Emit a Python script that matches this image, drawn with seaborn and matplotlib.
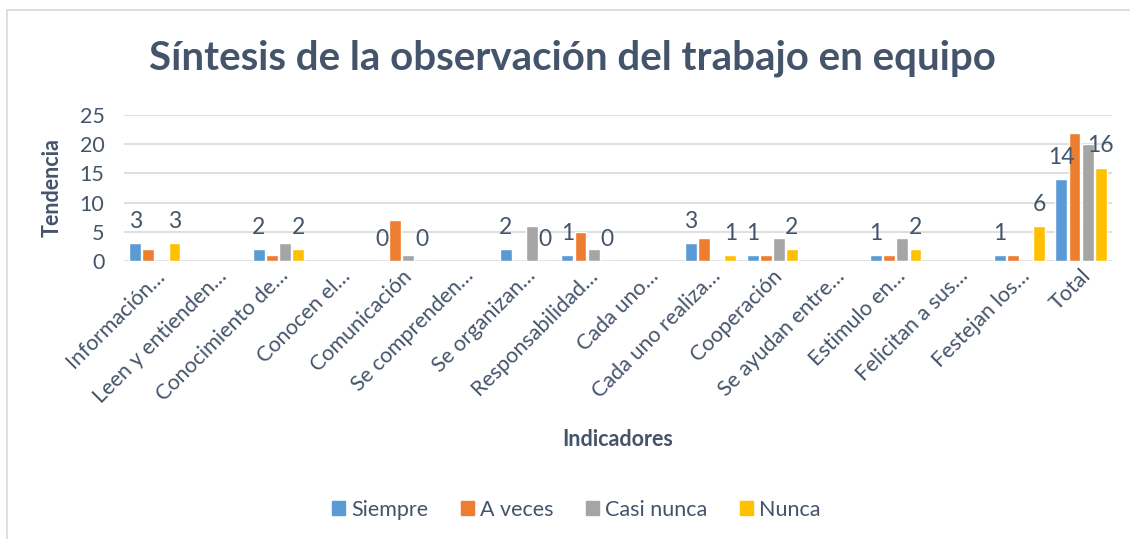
import matplotlib
matplotlib.use("Agg")
import matplotlib.pyplot as plt
from matplotlib.patches import Rectangle
import seaborn as sns
import pandas as pd
import numpy as np

#%% - data
indicadores = ["Información…", "Leen y entienden…", "Conocimiento de…", "Conocen el…",
               "Comunicación", "Se comprenden…", "Se organizan…", "Responsabilidad…",
               "Cada uno…", "Cada uno realiza…", "Cooperación", "Se ayudan entre…",
               "Estimulo en…", "Felicitan a sus…", "Festejan los…", "Total"]
nan = np.nan
siempre    = [3, nan, 2, nan, 0, nan, 2, 1, nan, 3, 1, nan, 1, nan, 1, 14]
a_veces    = [2, nan, 1, nan, 7, nan, 0, 5, nan, 4, 1, nan, 1, nan, 1, 22]
casi_nunca = [0, nan, 3, nan, 1, nan, 6, 2, nan, 0, 4, nan, 4, nan, 0, 20]
nunca      = [3, nan, 2, nan, 0, nan, 0, 0, nan, 1, 2, nan, 2, nan, 6, 16]

series = ["Siempre", "A veces", "Casi nunca", "Nunca"]
colores = ["#5B9BD5", "#ED7D31", "#A5A5A5", "#FFC000"]
texto = "#44546A"

df = pd.DataFrame({"Indicador": indicadores, "Siempre": siempre, "A veces": a_veces,
                   "Casi nunca": casi_nunca, "Nunca": nunca})
long = df.melt(id_vars="Indicador", var_name="Serie", value_name="Valor")

#%% - plot
sns.set_style("white")
plt.rcParams["font.family"] = ["Lato", "DejaVu Sans"]

fig = plt.figure(figsize=(11.3, 5.39), dpi=100)
ax = fig.add_axes([0.1097, 0.5158, 0.8743, 0.2708])

sns.barplot(data=long, x="Indicador", y="Valor", hue="Serie", order=indicadores,
            hue_order=series, palette=colores, errorbar=None, width=0.85, gap=0.1,
            saturation=1, ax=ax)

ax.set_xlim(-0.5, len(indicadores) - 0.5)
ax.set_ylim(0, 25)
ax.set_yticks(range(0, 26, 5))
ax.yaxis.grid(True, color="#D9D9D9", linewidth=1.2)
ax.set_axisbelow(True)
sns.despine(ax=ax, left=True, bottom=True)
ax.tick_params(axis="both", length=0, labelsize=15.5, labelcolor=texto)
ax.tick_params(axis="y", pad=14)
ax.set_xticks(range(len(indicadores)))
ax.set_xticklabels(indicadores, rotation=45, ha="right", rotation_mode="anchor")

# data labels only on Siempre and Nunca series
for cont, name in zip(ax.containers, series):
    if name in ("Siempre", "Nunca"):
        ax.bar_label(cont, fmt="%g", padding=8, fontsize=16.5, color=texto)

ax.set_ylabel("Tendencia", fontsize=15.5, fontweight="bold", color=texto)
ax.yaxis.set_label_coords(-0.062, 0.5)
ax.set_xlabel("Indicadores", fontsize=15.5, fontweight="bold", color=texto)
ax.xaxis.set_label_coords(0.5, -1.15)

ax.legend_.remove()
handles = [Rectangle((0, 0), 1, 1, color=c) for c in colores]
fig.legend(handles, series, loc="center", bbox_to_anchor=(0.51, 0.054), ncol=4,
           frameon=False, fontsize=15.5, labelcolor=texto, handlelength=0.6,
           handleheight=0.6, handletextpad=0.3, columnspacing=1.5)

fig.text(0.507, 0.892, "Síntesis de la observación del trabajo en equipo",
         ha="center", va="center", fontsize=29, fontweight="bold", color=texto)

# chart border
fig.patches.append(Rectangle((0.006, -0.05), 1.2, 0.9814 + 0.05, transform=fig.transFigure,
                             fill=False, edgecolor="#D9D9D9", linewidth=1.2))

fig.savefig("out.png", dpi=100)
